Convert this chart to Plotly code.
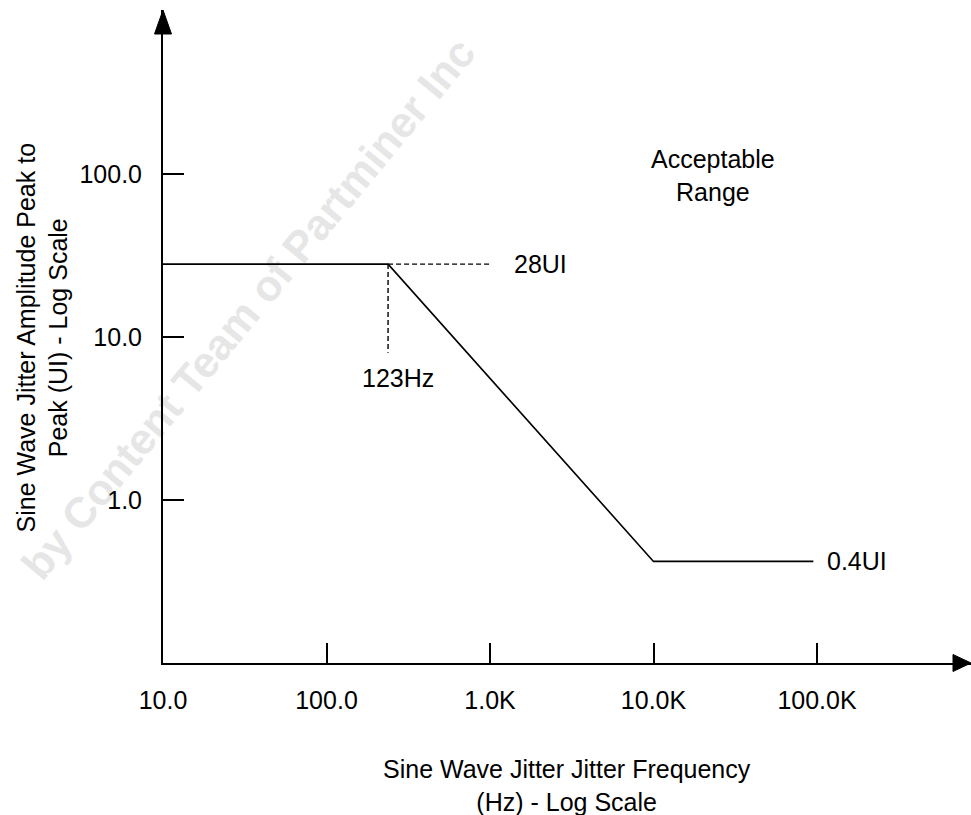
import numpy as np
import plotly.graph_objects as go

# ---- data ----
mask_freq = [10, 238, 10000, 95000]          # Hz
mask_amp = [28, 28, 0.42, 0.42]              # UI p-p
guide_h_freq = [238, 1000]
guide_h_amp = [28, 28]
guide_v_freq = [238, 238]
guide_v_amp = [28, 8.0]

x_tickvals = [10, 100, 1000, 10000, 100000]
x_ticktext = ["10.0", "100.0", "1.0K", "10.0K", "100.0K"]
y_tickvals = [1, 10, 100]
y_ticktext = ["1.0", "10.0", "100.0"]

FONT = "Liberation Sans, Arial, sans-serif"
FS = 25

fig = go.Figure()
fig.add_trace(go.Scatter(x=mask_freq, y=mask_amp, mode="lines",
                         line=dict(color="black", width=1.6), showlegend=False))
fig.add_trace(go.Scatter(x=guide_h_freq, y=guide_h_amp, mode="lines",
                         line=dict(color="black", width=1.4, dash="5px,3px"), showlegend=False))
fig.add_trace(go.Scatter(x=guide_v_freq, y=guide_v_amp, mode="lines",
                         line=dict(color="black", width=1.4, dash="5px,3px"), showlegend=False))

W, H = 971, 815
L, R, T, B = 163, 0, 10, 152

fig.update_layout(
    width=W, height=H,
    margin=dict(l=L, r=R, t=T, b=B, pad=0),
    paper_bgcolor="white", plot_bgcolor="white",
    font=dict(family=FONT, size=FS, color="black"),
    xaxis=dict(type="log", range=[1.0, 1.0 + (W - L) / 163.5],
               showgrid=False, zeroline=False,
               showline=True, linecolor="black", linewidth=2,
               ticks="inside", ticklen=20, tickwidth=1.5, tickcolor="black",
               tickvals=x_tickvals, ticktext=x_ticktext,
               ticklabelstandoff=14,
               tickfont=dict(family=FONT, size=FS, color="black")),
    yaxis=dict(type="log", range=[-1.0, -1.0 + (H - B - T) / 163.0],
               showgrid=False, zeroline=False,
               showline=True, linecolor="black", linewidth=2,
               ticks="inside", ticklen=21, tickwidth=1.5, tickcolor="black",
               tickvals=y_tickvals, ticktext=y_ticktext,
               ticklabelstandoff=14,
               tickfont=dict(family=FONT, size=FS, color="black")),
)

pw, ph = W - L - R, H - T - B

def px2paper(px, py):
    return (px - L) / pw, (663 - py) / ph

# watermark as a label on an invisible line shape, drawn below the data
wx0, wy0 = px2paper(38, 600)
wx1, wy1 = px2paper(494, 46)
fig.add_shape(type="line", xref="paper", yref="paper", x0=wx0, y0=wy0, x1=wx1, y1=wy1,
              line=dict(color="rgba(0,0,0,0)", width=0), layer="below",
              label=dict(text="by Content Team of Partminer Inc", textposition="middle",
                         font=dict(family=FONT, size=43, color="#e6e6e6", weight="bold")))

# axis arrowheads (paper coords)
hx = 8.5 / pw
hy = 8.5 / ph
fig.add_shape(type="path", xref="paper", yref="paper",
              path=f"M 0,1 L {-hx},{1 - 24 / ph} L {hx},{1 - 24 / ph} Z",
              fillcolor="black", line=dict(color="black", width=1))
fig.add_shape(type="path", xref="paper", yref="paper",
              path=f"M 1,0 L {1 - 18 / pw},{hy} L {1 - 18 / pw},{-hy} Z",
              fillcolor="black", line=dict(color="black", width=1))

def lx(px):
    return 1.0 + (px - L) / 163.5

def ly(py):
    return -1.0 + (663 - py) / 163.0

fig.add_annotation(text="28UI", x=lx(512), y=np.log10(28), xanchor="left", yanchor="middle",
                   showarrow=False)
fig.add_annotation(text="123Hz", x=lx(398), y=ly(378), xanchor="center", yanchor="middle",
                   showarrow=False)
fig.add_annotation(text="0.4UI", x=lx(825), y=np.log10(0.42), xanchor="left", yanchor="middle",
                   showarrow=False)
fig.add_annotation(text="Acceptable<br>Range", x=lx(713), y=ly(175), xanchor="center",
                   yanchor="middle", showarrow=False)

# axis titles
fig.add_annotation(text="Sine Wave Jitter Jitter Frequency<br>(Hz) - Log Scale",
                   xref="paper", yref="paper", x=0.5, y=(663 - 785) / ph,
                   xanchor="center", yanchor="middle", showarrow=False)
fig.add_annotation(text="Sine Wave Jitter Amplitude Peak to<br>Peak (UI) - Log Scale",
                   xref="paper", yref="paper", x=(41.5 - L) / pw, y=(663 - 338) / ph,
                   xanchor="center", yanchor="middle", textangle=-90, showarrow=False)

fig.write_html("out.html")
